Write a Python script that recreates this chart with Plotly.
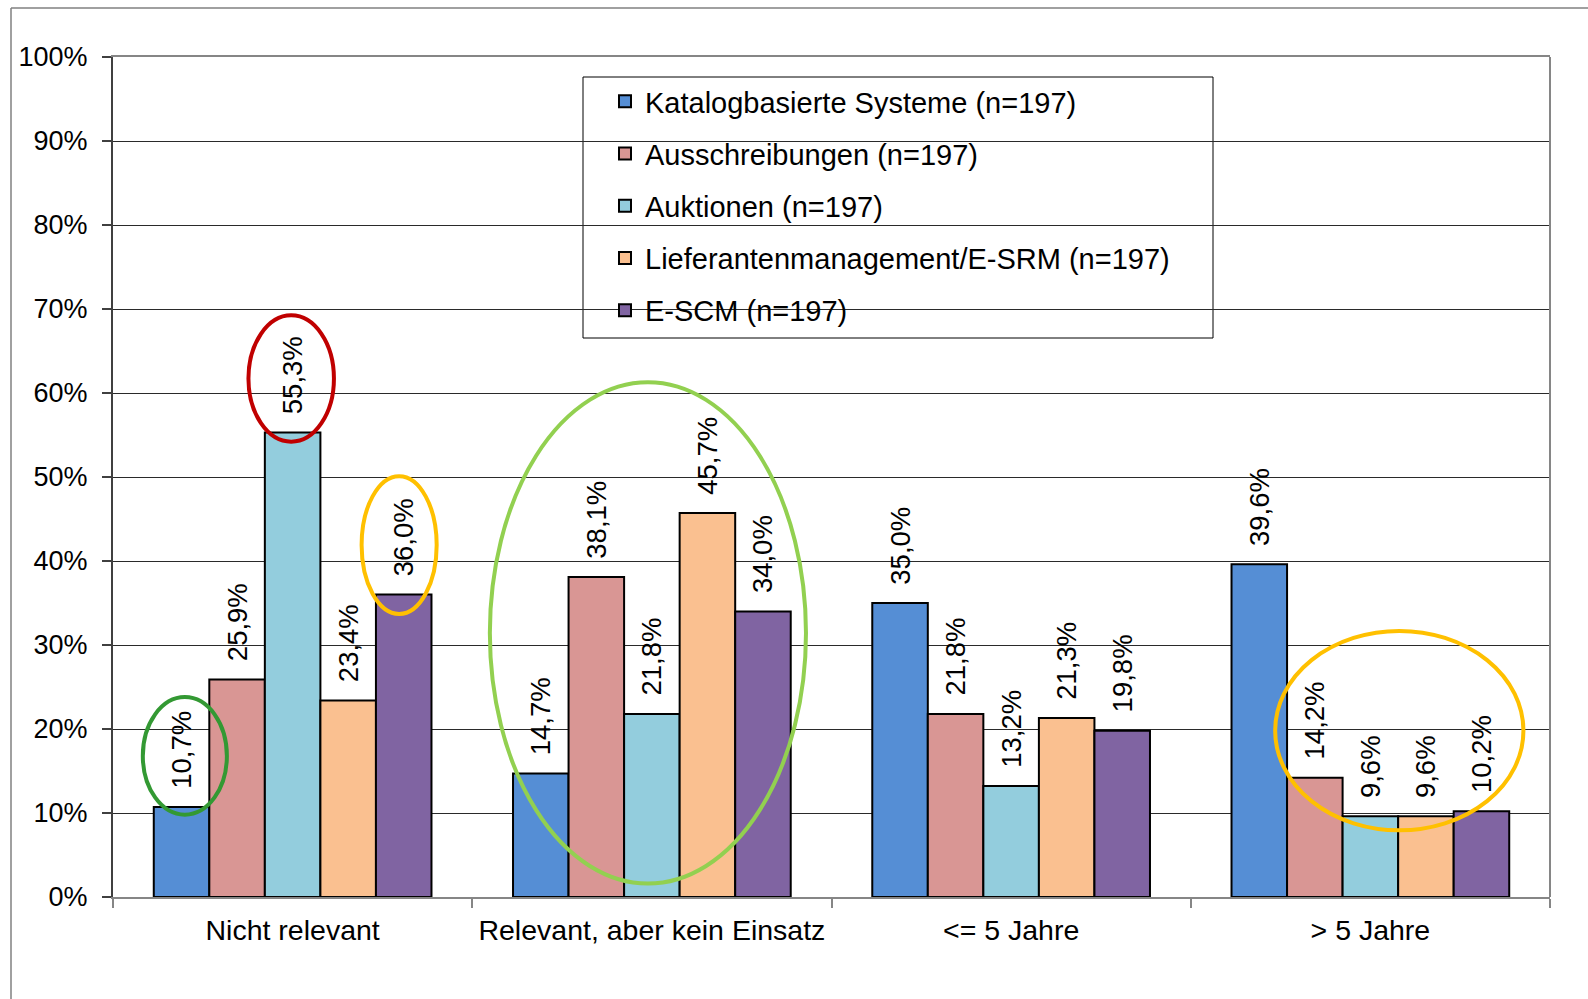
import plotly.graph_objects as go

categories = ["Nicht relevant", "Relevant, aber kein Einsatz", "<= 5 Jahre", "> 5 Jahre"]
series_names = [
    "Katalogbasierte Systeme (n=197)",
    "Ausschreibungen (n=197)",
    "Auktionen (n=197)",
    "Lieferantenmanagement/E-SRM (n=197)",
    "E-SCM (n=197)",
]
katalog = [10.7, 14.7, 35.0, 39.6]
ausschreibungen = [25.9, 38.1, 21.8, 14.2]
auktionen = [55.3, 21.8, 13.2, 9.6]
lieferanten = [23.4, 45.7, 21.3, 9.6]
escm = [36.0, 34.0, 19.8, 10.2]
y_ticks = [0, 10, 20, 30, 40, 50, 60, 70, 80, 90, 100]

colors = ["#558ED5", "#D99694", "#93CDDD", "#FAC090", "#8064A2"]
FONT = "Liberation Sans, Arial, sans-serif"
FS = 27

# plot-area pixel geometry
L, R, T, B = 113, 38, 57, 102
W, H = 1588, 999
PW, PH = W - L - R, H - T - B

def px_x(p):
    return (p - L) / PW

def px_y(p):
    return (H - B - p) / PH

NB = "\u00a0"

fig = go.Figure()
xs = list(range(len(categories)))
for i, (name, vals) in enumerate(zip(series_names, [katalog, ausschreibungen, auktionen, lieferanten, escm])):
    fig.add_trace(go.Bar(
        x=xs, y=vals, name=name, legendgroup=f"g{i}",
        marker=dict(color=colors[i], line=dict(color="#000000", width=2)),
        text=[NB + NB + f"{v:.1f}".replace(".", ",") + "%" for v in vals],
        textposition="outside", textangle=-90, constraintext="none",
        textfont=dict(family=FONT, size=27.5, color="#000000"),
        cliponaxis=False,
    ))

# highlight ellipses (data coordinates)
ellipses = [
    (-0.417, 9.8, -0.183, 23.8, "#339933"),
    (-0.123, 54.2, 0.115, 69.25, "#C00000"),
    (0.192, 33.7, 0.401, 50.1, "#FFC000"),
    (0.549, 1.6, 1.429, 61.27, "#92D050"),
    (2.735, 7.94, 3.426, 31.67, "#FFC000"),
]
for x0, y0, x1, y1, c in ellipses:
    fig.add_shape(type="circle", xref="x", yref="y", x0=x0, y0=y0, x1=x1, y1=y1,
                  line=dict(color=c, width=4), layer="above")

# outer frame
fig.add_shape(type="line", xref="paper", yref="paper", x0=px_x(11), x1=px_x(11), y0=px_y(8), y1=px_y(999),
              line=dict(color="#808080", width=1.5))
fig.add_shape(type="line", xref="paper", yref="paper", x0=px_x(11), x1=px_x(1588), y0=px_y(8), y1=px_y(8),
              line=dict(color="#808080", width=1.5))
# right border of plot area
fig.add_shape(type="line", xref="paper", yref="paper", x0=1, x1=1, y0=0, y1=1,
              line=dict(color="#868686", width=2))
# legend box
fig.add_shape(type="rect", xref="paper", yref="paper", x0=px_x(583), x1=px_x(1213), y0=px_y(77), y1=px_y(338),
              line=dict(color="#000000", width=1), fillcolor="white", layer="below")

fig.update_layout(
    width=W, height=H,
    margin=dict(l=L, r=R, t=T, b=B, pad=0),
    paper_bgcolor="white", plot_bgcolor="rgba(0,0,0,0)",
    barmode="group", bargap=0.227, bargroupgap=0,
    font=dict(family=FONT, size=FS, color="#000000"),
    showlegend=True,
    legend=dict(x=px_x(605), y=px_y(76), xanchor="left", yanchor="top",
                bgcolor="rgba(0,0,0,0)", borderwidth=0, tracegroupgap=11.5,
                font=dict(family=FONT, size=29, color="#000000"),
                traceorder="grouped"),
    xaxis=dict(
        range=[-0.5, 3.5], tickmode="array", tickvals=xs, ticktext=categories,
        ticks="", showgrid=False, zeroline=False,
        showline=True, linecolor="#868686", linewidth=2, mirror=True,
        ticklabelstandoff=7, tickfont=dict(size=28.5),
        minor=dict(tickmode="linear", tick0=-0.5, dtick=1, ticks="outside", ticklen=9,
                   tickcolor="#868686", tickwidth=2, showgrid=False),
    ),
    yaxis=dict(
        range=[0, 100], tickmode="array", tickvals=y_ticks,
        ticktext=[f"{v}%" for v in y_ticks],
        ticks="outside", ticklen=9, tickcolor="#404040", tickwidth=1.5,
        showline=True, linecolor="#404040", linewidth=2,
        showgrid=True, gridcolor="#2a2a2a", gridwidth=1,
        zeroline=False, ticklabelstandoff=9,
    ),
)

fig.write_html("out.html", post_script="document.body.style.margin='0';",
               config={"displayModeBar": False})
